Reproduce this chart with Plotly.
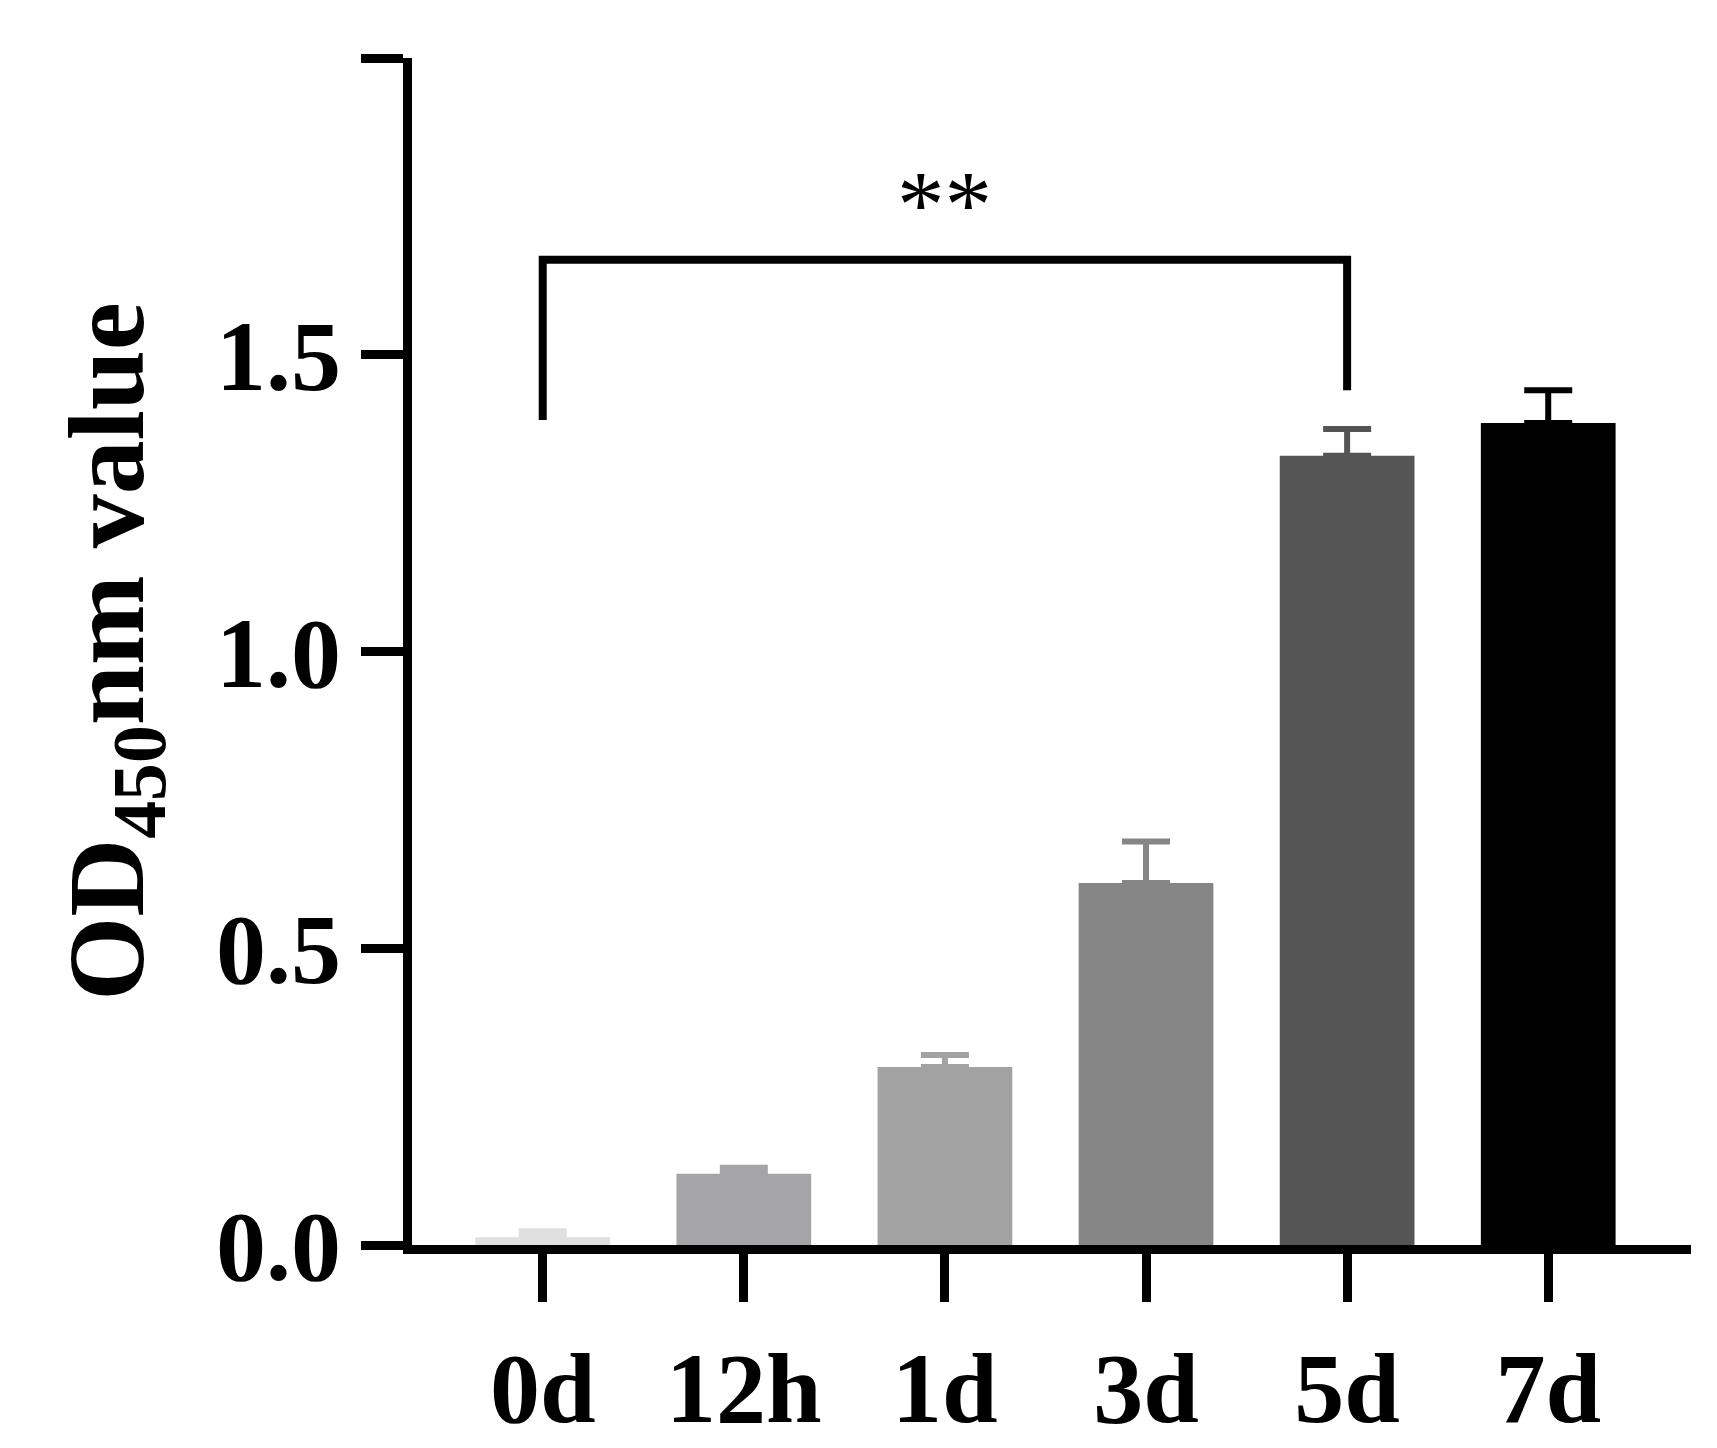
import plotly.graph_objects as go

groups = ["0d", "12h", "1d", "3d", "5d", "7d"]
means = [0.013, 0.12, 0.30, 0.61, 1.33, 1.385]
errs = [0.01, 0.01, 0.02, 0.07, 0.045, 0.055]
colors = ["#e0e0e0", "#a5a5a8", "#a2a2a2", "#868686", "#555555", "#000000"]

FAM = "Times New Roman, Liberation Serif, serif"

fig = go.Figure()
for g, m, e, c in zip(groups, means, errs, colors):
    fig.add_trace(go.Bar(
        x=[g], y=[m], marker=dict(color=c, line_width=0), width=0.67,
        error_y=dict(type="data", array=[e], arrayminus=[0], symmetric=False,
                     color=c, thickness=6, width=24),
        showlegend=False))

# significance bracket 0d vs 5d
fig.add_trace(go.Scatter(x=["0d", "0d", "5d", "5d"], y=[1.39, 1.66, 1.66, 1.44],
                         mode="lines", line=dict(color="black", width=8),
                         showlegend=False, hoverinfo="skip"))
fig.add_annotation(x=2.0, y=1.66, text="**", showarrow=False, yanchor="bottom",
                   font=dict(family=FAM, size=95, color="black"))

fig.update_layout(
    width=1717, height=1448, plot_bgcolor="white", paper_bgcolor="white",
    margin=dict(l=404, r=34, t=50, b=196),
    font=dict(family=FAM, size=80, color="black"),
)
fig.update_xaxes(range=[-0.65, 5.71], showline=True, linewidth=9, linecolor="black",
                 ticks="outside", ticklen=48, tickwidth=9, tickcolor="black",
                 tickfont=dict(family=FAM, size=100, color="black", weight="bold"),
                 showgrid=False, zeroline=False)
fig.update_yaxes(range=[0, 2.0], tickvals=[0, 0.5, 1.0, 1.5, 2.0],
                 ticktext=["0.0", "0.5", "1.0", "1.5", "2.0"],
                 showline=True, linewidth=9, linecolor="black",
                 ticks="outside", ticklen=42, tickwidth=9, tickcolor="black",
                 tickfont=dict(family=FAM, size=100, color="black", weight="bold"),
                 title=dict(text="<b>OD<sub>450</sub>nm value</b>", standoff=40,
                            font=dict(family=FAM, size=108, color="black")),
                 showgrid=False, zeroline=False)
fig.write_html("out.html")
